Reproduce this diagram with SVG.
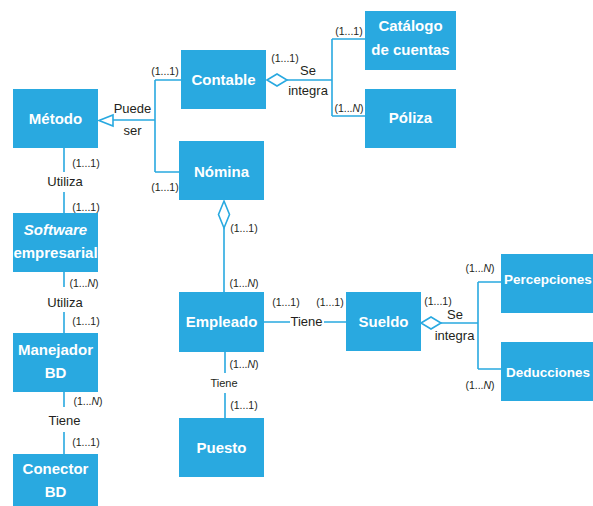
<svg xmlns="http://www.w3.org/2000/svg" width="593" height="506" viewBox="0 0 593 506">
<style>
.box{fill:#29a9e0}
.bt{fill:#fff;font-family:"Liberation Sans",Arial,sans-serif;font-weight:bold;font-size:15px;text-anchor:middle}
.bs{text-anchor:start;font-size:13.5px}
.ln{stroke:#29a9e0;stroke-width:1.6;fill:none}
.hd{stroke:#29a9e0;stroke-width:1.6;fill:#fff}
.lb{fill:#231f20;font-family:"Liberation Sans",Arial,sans-serif;font-size:13px;text-anchor:middle}
.cd{fill:#231f20;font-family:"Liberation Sans",Arial,sans-serif;font-size:10.5px;text-anchor:middle}
.sm{font-size:11px}
</style>
<rect width="593" height="506" fill="#fff"/>
<g id="connectors">
  <path class="ln" d="M113,120 H155 M155,80 V172 M155,80 H181 M155,172 H179"/>
  <polygon class="hd" points="99,120.5 113,115 113,126"/>
  <path class="ln" d="M287,80 H332 M332,39 V116 M332,39 H365 M332,116 H365"/>
  <polygon class="hd" points="267,80 277,74 287,80 277,86"/>
  <path class="ln" d="M64,148 V172 M64,192 V213 M64,272 V287 M64,312 V333 M64,392 V407 M64,432 V454"/>
  <path class="ln" d="M224,228 V292"/>
  <polygon class="hd" points="224,201 229.5,214.5 224,228 218.5,214.5"/>
  <path class="ln" d="M264,322 H290 M324,322 H346"/>
  <path class="ln" d="M225,352 V373 M225,393 V418"/>
  <path class="ln" d="M441,323 H478 M478,282 V369 M478,282 H501 M478,369 H501"/>
  <polygon class="hd" points="421,323 431,317 441,323 431,329"/>
  <text class="lb" x="132.5" y="113">Puede</text>
  <text class="lb" x="132.5" y="135">ser</text>
  <text class="cd" x="165" y="75">(1...1)</text>
  <text class="cd" x="165" y="191">(1...1)</text>
  <text class="cd" x="285" y="62">(1...1)</text>
  <text class="lb" x="308" y="75">Se</text>
  <text class="lb" x="308" y="95">integra</text>
  <text class="cd" x="349" y="35">(1...1)</text>
  <text class="cd" x="349" y="112">(1...<tspan font-style="italic">N</tspan>)</text>
  <text class="cd" x="86" y="167">(1...1)</text>
  <text class="lb" x="65" y="186">Utiliza</text>
  <text class="cd" x="86" y="211">(1...1)</text>
  <text class="cd" x="84" y="287">(1...<tspan font-style="italic">N</tspan>)</text>
  <text class="lb" x="65" y="307">Utiliza</text>
  <text class="cd" x="86" y="325">(1...1)</text>
  <text class="cd" x="88" y="405">(1...<tspan font-style="italic">N</tspan>)</text>
  <text class="lb" x="64.5" y="425">Tiene</text>
  <text class="cd" x="86" y="446">(1...1)</text>
  <text class="cd" x="244" y="232">(1...1)</text>
  <text class="cd" x="244" y="287">(1...<tspan font-style="italic">N</tspan>)</text>
  <text class="cd" x="286" y="306">(1...1)</text>
  <text class="cd" x="330" y="306">(1...1)</text>
  <text class="lb" x="306.5" y="326">Tiene</text>
  <text class="cd" x="244" y="368">(1...<tspan font-style="italic">N</tspan>)</text>
  <text class="lb sm" x="224" y="387">Tiene</text>
  <text class="cd" x="244" y="409">(1...1)</text>
  <text class="cd" x="438" y="305">(1...1)</text>
  <text class="lb" x="455" y="319">Se</text>
  <text class="lb" x="454.5" y="340">integra</text>
  <text class="cd" x="480" y="272">(1...<tspan font-style="italic">N</tspan>)</text>
  <text class="cd" x="480" y="389">(1...<tspan font-style="italic">N</tspan>)</text>
</g>
<g id="metodo"><rect class="box" x="13" y="89" width="85" height="59"/><text class="bt" x="55.5" y="124">Método</text></g>
<g id="contable"><rect class="box" x="181" y="50" width="85" height="59"/><text class="bt" x="223.5" y="85">Contable</text></g>
<g id="nomina"><rect class="box" x="179" y="141" width="85" height="59"/><text class="bt" x="221.5" y="177">Nómina</text></g>
<g id="catalogo"><rect class="box" x="365" y="11" width="91" height="59"/><text class="bt" x="410.5" y="31">Catálogo</text><text class="bt" x="410.5" y="55">de cuentas</text></g>
<g id="poliza"><rect class="box" x="365" y="89" width="91" height="59"/><text class="bt" x="410.5" y="123">Póliza</text></g>
<g id="software"><rect class="box" x="13" y="213" width="85" height="59"/><text class="bt" x="55.5" y="235" font-style="italic">Software</text><text class="bt" x="55.5" y="258" font-size="14">empresarial</text></g>
<g id="manejador"><rect class="box" x="13" y="333" width="85" height="59"/><text class="bt" x="55.5" y="355">Manejador</text><text class="bt" x="55.5" y="378">BD</text></g>
<g id="conector"><rect class="box" x="13" y="454" width="85" height="53"/><text class="bt" x="55.5" y="474">Conector</text><text class="bt" x="55.5" y="497">BD</text></g>
<g id="empleado"><rect class="box" x="179" y="292" width="85" height="60"/><text class="bt" x="221.5" y="327">Empleado</text></g>
<g id="sueldo"><rect class="box" x="346" y="292" width="75" height="59"/><text class="bt" x="383.5" y="327">Sueldo</text></g>
<g id="puesto"><rect class="box" x="179" y="418" width="85" height="59"/><text class="bt" x="221.5" y="453">Puesto</text></g>
<g id="percepciones"><rect class="box" x="501" y="254" width="100" height="59"/><text class="bt bs" x="504" y="284">Percepciones</text></g>
<g id="deducciones"><rect class="box" x="501" y="342" width="100" height="59"/><text class="bt bs" x="506" y="377">Deducciones</text></g>
</svg>
